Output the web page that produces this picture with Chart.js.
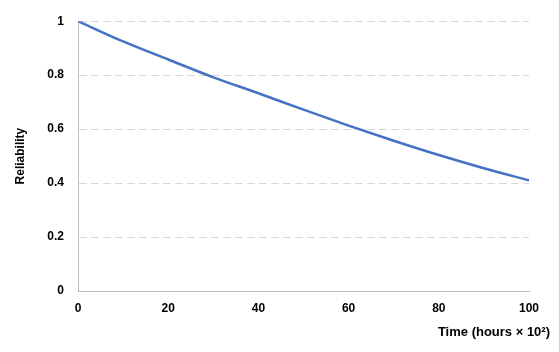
<!DOCTYPE html>
<html>
<head>
<meta charset="utf-8">
<script src="https://cdn.jsdelivr.net/npm/chart.js@4.4.1/dist/chart.umd.min.js"></script>
<style>
  html, body { margin: 0; padding: 0; background: #fff; }
  #wrap { width: 559px; height: 352px; }
</style>
</head>
<body>
<div id="wrap"><canvas id="relChart" width="559" height="352"></canvas></div>
<script>
// time in hours x 10^2
const times = [0, 10, 20, 30, 40, 50, 60, 70, 80, 90, 100];
// reliability
const reliability = [1, 0.925, 0.858, 0.792, 0.733, 0.672, 0.613, 0.557, 0.504, 0.455, 0.41];
const yTicks = [0, 0.2, 0.4, 0.6, 0.8, 1];
const xTicks = [0, 20, 40, 60, 80, 100];

const points = times.map((t, i) => ({ x: t, y: reliability[i] }));

const tickFont = { family: "'Liberation Sans', Arial, sans-serif", size: 12, weight: "bold" };

// x title sits past the right end of the plot, like the original
const xTitlePlugin = {
    id: "xTitle",
    afterDraw(chart) {
        const c = chart.ctx;
        const area = chart.chartArea;
        c.save();
        c.fillStyle = "#000";
        c.font = "bold 13px 'Liberation Sans', Arial, sans-serif";
        c.textAlign = "right";
        c.textBaseline = "middle";
        c.fillText("Time (hours \u00d7 10\u00b2)", area.right + 21, area.bottom + 41);
        c.restore();
    }
};

new Chart(document.getElementById("relChart"), {
    type: "scatter",
    data: {
        datasets: [{
            data: points,
            showLine: true,
            borderColor: "#4472C4",
            borderWidth: 2.5,
            pointRadius: 0,
            cubicInterpolationMode: "monotone",
            fill: false
        }]
    },
    options: {
        responsive: false,
        animation: false,
        layout: { padding: { top: 19, right: 30, left: 0, bottom: 0 } },
        plugins: {
            legend: { display: false },
            tooltip: { enabled: false }
        },
        scales: {
            x: {
                type: "linear",
                min: 0,
                max: 100,
                afterBuildTicks: (s) => { s.ticks = xTicks.map(v => ({ value: v })); },
                afterFit: (s) => { s.height = 61; },
                grid: { display: false, drawTicks: false },
                border: { display: true, color: "#bfbfbf", width: 1 },
                ticks: { color: "#000", font: tickFont, padding: 10 }
            },
            y: {
                min: 0,
                max: 1,
                afterBuildTicks: (s) => { s.ticks = yTicks.map(v => ({ value: v })); },
                afterFit: (s) => { s.width = 78; },
                grid: {
                    color: (c) => c.tick.value === 0 ? "rgba(0,0,0,0)" : "#d9d9d9",
                    drawTicks: false
                },
                border: { display: true, color: "#bfbfbf", width: 1, dash: [8, 4] },
                ticks: {
                    color: "#000",
                    font: tickFont,
                    padding: 14,
                    callback: (v) => String(v)
                },
                title: {
                    display: true,
                    text: "Reliability",
                    color: "#000",
                    font: tickFont,
                    padding: { top: 13, bottom: 0 }
                }
            }
        }
    },
    plugins: [xTitlePlugin]
});
</script>
</body>
</html>
